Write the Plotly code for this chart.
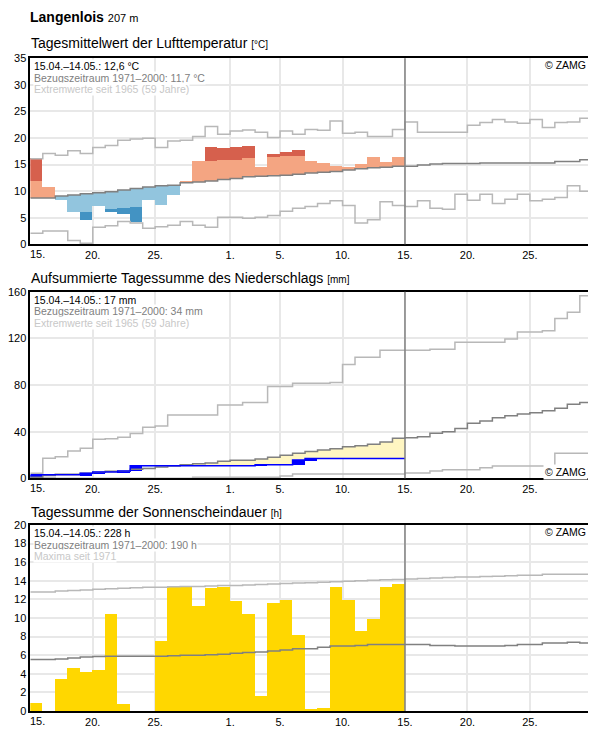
import plotly.graph_objects as go

# ---------------- data ----------------
xtick_vals = [0, 5, 10, 16, 20, 25, 30, 35, 40]
xtick_text = ["15.", "20.", "25.", "1.", "5.", "10.", "15.", "20.", "25."]

# Temperature (°C), day 0 = 15.04.
temp_actual = [16.1, 10.7, 8.2, 6.1, 4.6, 7.1, 6.0, 5.6, 4.2, 8.3,
               7.3, 9.2, 11.8, 15.7, 18.2, 18.0, 18.2, 18.5, 14.4, 17.0,
               17.4, 17.6, 15.7, 15.3, 14.6, 14.5, 15.1, 16.4, 15.5, 16.4]
temp_upper_thr = [11.9, None, None, None, None, None, None, None, None, None,
                  None, None, None, None, 15.6, 15.75, 15.9, 16.1, None, 16.3,
                  16.5, 16.5, None, None, None, None, None, None, None, None]
temp_lower_thr = [None, None, None, None, 6.1, None, 6.5, 6.7, 6.9, None,
                  None, None, None, None, None, None, None, None, None, None,
                  None, None, None, None, None, None, None, None, None, None]
temp_normal = [8.7, 8.7, 9.1, 9.3, 9.5, 9.7, 9.9, 10.2, 10.5, 10.8,
               11.0, 11.1, 11.6, 11.7, 11.9, 12.2, 12.4, 12.7, 12.8, 12.9,
               13.0, 13.2, 13.4, 13.55, 13.7, 14.0, 14.2, 14.4, 14.5, 14.7,
               14.7, 14.9, 15.1, 15.2, 15.2, 15.2, 15.3, 15.3, 15.3, 15.3,
               15.3, 15.3, 15.6, 15.6, 15.9]
temp_max = [16.1, 17.1, 16.75, 17.6, 17.1, 18.2, 18.6, 19.6, 19.8, 19.95,
            18.2, 19.45, 19.6, 20.3, 22.15, 20.7, 21.3, 21.5, 21.1, 20.1,
            21.3, 20.7, 21.6, 21.45, 23.2, 20.9, 21.1, 20.3, 20.3, 21.6,
            23.0, 21.1, 21.1, 21.1, 21.1, 22.4, 22.9, 23.5, 23.0, 22.8,
            23.5, 22.0, 22.9, 23.0, 23.7]
temp_min = [2.1, 2.5, 2.5, 0.7, 0.2, 3.2, 3.5, 4.3, 4.0, 3.0,
            3.3, 3.6, 4.3, 3.6, 3.2, 5.1, 5.1, 4.9, 5.1, 5.4,
            6.2, 6.8, 7.1, 7.7, 8.2, 7.3, 4.0, 4.6, 8.0, 7.3,
            7.1, 8.2, 6.8, 6.6, 9.4, 8.3, 9.4, 7.7, 8.5, 9.4,
            8.2, 8.5, 8.8, 11.0, 10.0]

# Precipitation, cumulative (mm)
prec_actual = [3.0, 3.0, 3.0, 3.0, 4.4, 5.3, 5.3, 6.3, 10.8, 10.8,
               10.8, 10.8, 10.8, 10.8, 10.8, 10.8, 10.8, 10.8, 11.6, 11.6,
               11.6, 15.7, 17.0, 17.0, 17.0, 17.0, 17.0, 17.0, 17.0, 17.0]
prec_normal = [0.8, 2.3, 3.4, 3.4, 4.3, 5.1, 6.0, 6.0, 7.7, 8.5,
               9.7, 10.5, 11.7, 12.5, 13.1, 14.6, 15.4, 15.4, 16.5, 18.0,
               19.7, 21.4, 22.9, 24.3, 25.4, 27.1, 28.0, 29.1, 31.1, 34.3,
               34.8, 35.7, 38.6, 40.0, 42.8, 47.1, 49.1, 52.0, 53.7, 55.1,
               56.3, 58.0, 60.0, 63.4, 64.9]
prec_max = [4.3, 17.1, 18.5, 23.4, 25.7, 33.4, 34.0, 35.1, 38.5, 43.7,
            44.8, 54.3, 54.3, 54.3, 54.3, 62.8, 62.8, 65.1, 65.1, 78.8,
            78.8, 81.4, 81.4, 81.4, 82.2, 97.6, 103.7, 103.7, 109.7, 109.7,
            109.7, 109.7, 110.6, 110.6, 116.6, 116.6, 116.6, 116.6, 119.4, 125.4,
            125.4, 126.6, 137.1, 142.3, 156.6]
prec_min = [0.5, 0.5, 0, 0, 0, 0, 0, 0, 0, 0,
            0, 0, 0, 0.8, 0.8, 0.8, 0.8, 0.8, 0.8, 0.8,
            1.9, 3.7, 3.7, 3.7, 3.7, 3.7, 3.7, 3.7, 3.7, 3.7,
            4.5, 4.5, 6.3, 7.4, 7.4, 7.4, 9.1, 10.5, 10.5, 10.5,
            10.5, 10.5, 21.4, 21.4, 21.4]

# Sunshine (h)
sun_actual = [0.9, 0, 3.45, 4.6, 4.2, 4.4, 10.4, 0.75, 0, 0,
              7.5, 13.3, 13.3, 11.3, 13.2, 13.3, 11.8, 10.4, 1.6, 11.6,
              11.9, 8.2, 0.2, 0.3, 13.3, 11.9, 8.6, 9.9, 13.3, 13.65]
sun_normal = [5.55, 5.55, 5.6, 5.7, 5.8, 5.85, 5.9, 5.9, 5.9, 5.9,
              5.9, 5.95, 6.0, 6.0, 6.05, 6.1, 6.2, 6.3, 6.35, 6.45,
              6.55, 6.7, 6.7, 6.85, 7.0, 7.0, 7.05, 7.15, 7.15, 7.15,
              7.15, 7.15, 7.05, 7.05, 7.0, 7.0, 7.0, 7.0, 7.05, 7.15,
              7.15, 7.3, 7.3, 7.4, 7.3]
sun_max = [12.8, 12.8, 12.9, 12.95, 13.0, 13.1, 13.15, 13.2, 13.25, 13.3,
           13.3, 13.35, 13.4, 13.4, 13.45, 13.5, 13.5, 13.55, 13.6, 13.65,
           13.7, 13.75, 13.8, 13.85, 13.9, 13.95, 14.0, 14.05, 14.1, 14.15,
           14.2, 14.25, 14.3, 14.35, 14.4, 14.4, 14.45, 14.5, 14.55, 14.6,
           14.6, 14.7, 14.7, 14.7, 14.7]

# ---------------- styling ----------------
OFF = 8  # the page body has an 8px margin; work in page pixels minus this offset
W, H = 596 - OFF, 729 - OFF
X0, X1 = 30.3 - OFF, 592.3 - OFF
PANELS = [(58.3 - OFF, 244.3 - OFF), (291.7 - OFF, 478.3 - OFF), (525.0 - OFF, 711.0 - OFF)]
FONT = "Liberation Sans, Arial, sans-serif"
C_SALMON, C_DRED = "#f4a582", "#d6604d"
C_LBLUE, C_DBLUE = "#92c5de", "#4393c3"
C_NORM, C_EXT = "#808080", "#b8b8b8"
C_GRID = "#e8e8e8"


def ydom(top, bottom):
    return [1 - bottom / H, 1 - top / H]


def py(ypage):
    return 1 - (ypage - OFF) / H


def px(xpage):
    return (xpage - OFF) / W


fig = go.Figure()


def step(vals, xa, ya, color, width=1.5):
    xs = list(range(len(vals) + 1))
    ys = list(vals) + [vals[-1]]
    fig.add_trace(go.Scatter(x=xs, y=ys, mode="lines", xaxis=xa, yaxis=ya,
                             line=dict(shape="hv", color=color, width=width),
                             hoverinfo="skip", showlegend=False))


def bars(xs, heights, bases, color, xa, ya):
    fig.add_trace(go.Bar(x=xs, y=heights, base=bases, width=1.0, xaxis=xa, yaxis=ya,
                         marker=dict(color=color, line=dict(width=0)),
                         hoverinfo="skip", showlegend=False))


# ---- panel 1: temperature ----
xc = [d + 0.5 for d in range(len(temp_actual))]
sal_h, sal_b, red_h, red_b, lb_h, lb_b, db_h, db_b = ([] for _ in range(8))
for d, a in enumerate(temp_actual):
    n = temp_normal[d]
    sal = red = lb = db = (None, None)
    if a >= n:
        thr = temp_upper_thr[d]
        top = a if thr is None else min(a, thr)
        sal = (top - n, n)
        if thr is not None and a > thr:
            red = (a - thr, thr)
    else:
        thr = temp_lower_thr[d]
        bot = a if thr is None else max(a, thr)
        lb = (n - bot, bot)
        if thr is not None and a < thr:
            db = (thr - a, a)
    sal_h.append(sal[0]); sal_b.append(sal[1])
    red_h.append(red[0]); red_b.append(red[1])
    lb_h.append(lb[0]); lb_b.append(lb[1])
    db_h.append(db[0]); db_b.append(db[1])

bars(xc, sal_h, sal_b, C_SALMON, "x", "y")
bars(xc, red_h, red_b, C_DRED, "x", "y")
bars(xc, lb_h, lb_b, C_LBLUE, "x", "y")
bars(xc, db_h, db_b, C_DBLUE, "x", "y")
step(temp_max, "x", "y", C_EXT)
step(temp_min, "x", "y", C_EXT)
step(temp_normal, "x", "y", C_NORM)

# ---- panel 2: precipitation ----
yel_h, yel_b, lt_h, lt_b, inc_h, inc_b = ([] for _ in range(6))
prev = 0.0
for d, a in enumerate(prec_actual):
    n = prec_normal[d]
    if a < n:
        yel_h.append(n - a); yel_b.append(a); lt_h.append(None); lt_b.append(None)
    else:
        lt_h.append(a - n); lt_b.append(n); yel_h.append(None); yel_b.append(None)
    if a > prev:
        inc_h.append(a - prev); inc_b.append(prev)
    else:
        inc_h.append(None); inc_b.append(None)
    prev = a
bars(xc, yel_h, yel_b, "#fff6c2", "x2", "y2")
bars(xc, lt_h, lt_b, "#e4eef6", "x2", "y2")
step(prec_max, "x2", "y2", C_EXT)
step(prec_min, "x2", "y2", C_EXT)
step(prec_normal, "x2", "y2", C_NORM)
bars(xc, inc_h, inc_b, "#0000ff", "x2", "y2")
step(prec_actual, "x2", "y2", "#0000ff")

# ---- panel 3: sunshine ----
bars(xc, sun_actual, [0] * len(sun_actual), "#ffd700", "x3", "y3")
step(sun_max, "x3", "y3", C_EXT)
step(sun_normal, "x3", "y3", C_NORM)

# ---------------- layout ----------------
axis_common = dict(showline=True, mirror=True, linecolor="black", linewidth=1.5,
                   showgrid=True, gridcolor=C_GRID, gridwidth=1.5, zeroline=False,
                   ticks="", tickfont=dict(family=FONT, size=11, color="black"),
                   fixedrange=True, automargin=False)
xt = [""] + xtick_text[1:]
layout = dict(
    width=W, height=H, margin=dict(l=0, r=0, t=0, b=0),
    paper_bgcolor="white", plot_bgcolor="white",
    barmode="overlay", bargap=0, showlegend=False,
    font=dict(family=FONT, color="black"),
)
yranges = [(0, 35, 5), (0, 160, 40), (0, 20, 2)]
for i, ((top, bot), (y0, y1, dt)) in enumerate(zip(PANELS, yranges)):
    sfx = "" if i == 0 else str(i + 1)
    layout["xaxis" + sfx] = dict(axis_common, domain=[X0 / W, X1 / W], range=[0, 45],
                                 tickmode="array", tickvals=xtick_vals, ticktext=xt,
                                 anchor="y" + sfx)
    layout["yaxis" + sfx] = dict(axis_common, domain=ydom(top, bot), range=[y0, y1],
                                 tickmode="linear", tick0=0, dtick=dt,
                                 anchor="x" + sfx)
fig.update_layout(**layout)

shapes = []
for i in range(3):
    sfx = "" if i == 0 else str(i + 1)
    shapes.append(dict(type="line", xref="x" + sfx, yref="y" + sfx + " domain",
                       x0=30, x1=30, y0=0, y1=1, layer="above",
                       line=dict(color=C_NORM, width=1.5)))
fig.update_layout(shapes=shapes)

ann = []
# main title
ann.append(dict(xref="paper", yref="paper", x=px(29), y=1, xanchor="left",
                yanchor="top", showarrow=False, borderpad=0,
                text="<b>Langenlois</b> <span style='font-size:11px'>207 m</span>",
                font=dict(family=FONT, size=14, color="black")))
titles = ["Tagesmittelwert der Lufttemperatur <span style='font-size:10px'>[°C]</span>",
          "Aufsummierte Tagessumme des Niederschlags <span style='font-size:10px'>[mm]</span>",
          "Tagessumme der Sonnenscheindauer <span style='font-size:10px'>[h]</span>"]
title_y = [43, 278.3, 512]
for t, ty in zip(titles, title_y):
    ann.append(dict(xref="paper", yref="paper", x=px(29), y=py(ty), xanchor="left",
                    yanchor="middle", showarrow=False, text=t,
                    font=dict(family=FONT, size=14, color="black")))

info = [["15.04.–14.05.: 12,6 °C", "Bezugszeitraum 1971–2000: 11,7 °C",
         "Extremwerte seit 1965 (59 Jahre)"],
        ["15.04.–14.05.: 17 mm", "Bezugszeitraum 1971–2000: 34 mm",
         "Extremwerte seit 1965 (59 Jahre)"],
        ["15.04.–14.05.: 228 h", "Bezugszeitraum 1971–2000: 190 h",
         "Maxima seit 1971"]]
info_cols = ["black", "#808080", "#c8c8c8"]
offs = [8, 19.5, 31]
for i, lines in enumerate(info):
    sfx = "" if i == 0 else str(i + 1)
    for j, (txt, col) in enumerate(zip(lines, info_cols)):
        ann.append(dict(xref="x" + sfx + " domain", yref="y" + sfx + " domain",
                        x=0, y=1, xshift=3, yshift=-offs[j], xanchor="left",
                        yanchor="middle", showarrow=False, text=txt, bgcolor="white",
                        borderpad=0,
                        font=dict(family=FONT, size=10.5, color=col)))
    # copyright
    if i == 1:
        ann.append(dict(xref="x2 domain", yref="y2 domain", x=1, y=0, xshift=-4,
                        yshift=6, xanchor="right", yanchor="middle", showarrow=False,
                        text="© ZAMG", bgcolor="white", borderpad=1,
                        font=dict(family=FONT, size=10.5, color="black")))
    else:
        ann.append(dict(xref="x" + sfx + " domain", yref="y" + sfx + " domain",
                        x=1, y=1, xshift=-4, yshift=-7, xanchor="right",
                        yanchor="middle", showarrow=False, text="© ZAMG",
                        font=dict(family=FONT, size=10.5, color="black")))
    # first x tick label "15."
    ann.append(dict(xref="x" + sfx, yref="y" + sfx + " domain", x=0, y=0,
                    xanchor="left", yanchor="top", yshift=-2, xshift=-2,
                    showarrow=False, text=xtick_text[0],
                    font=dict(family=FONT, size=11, color="black")))
fig.update_layout(annotations=ann)

fig.write_html("out.html")
